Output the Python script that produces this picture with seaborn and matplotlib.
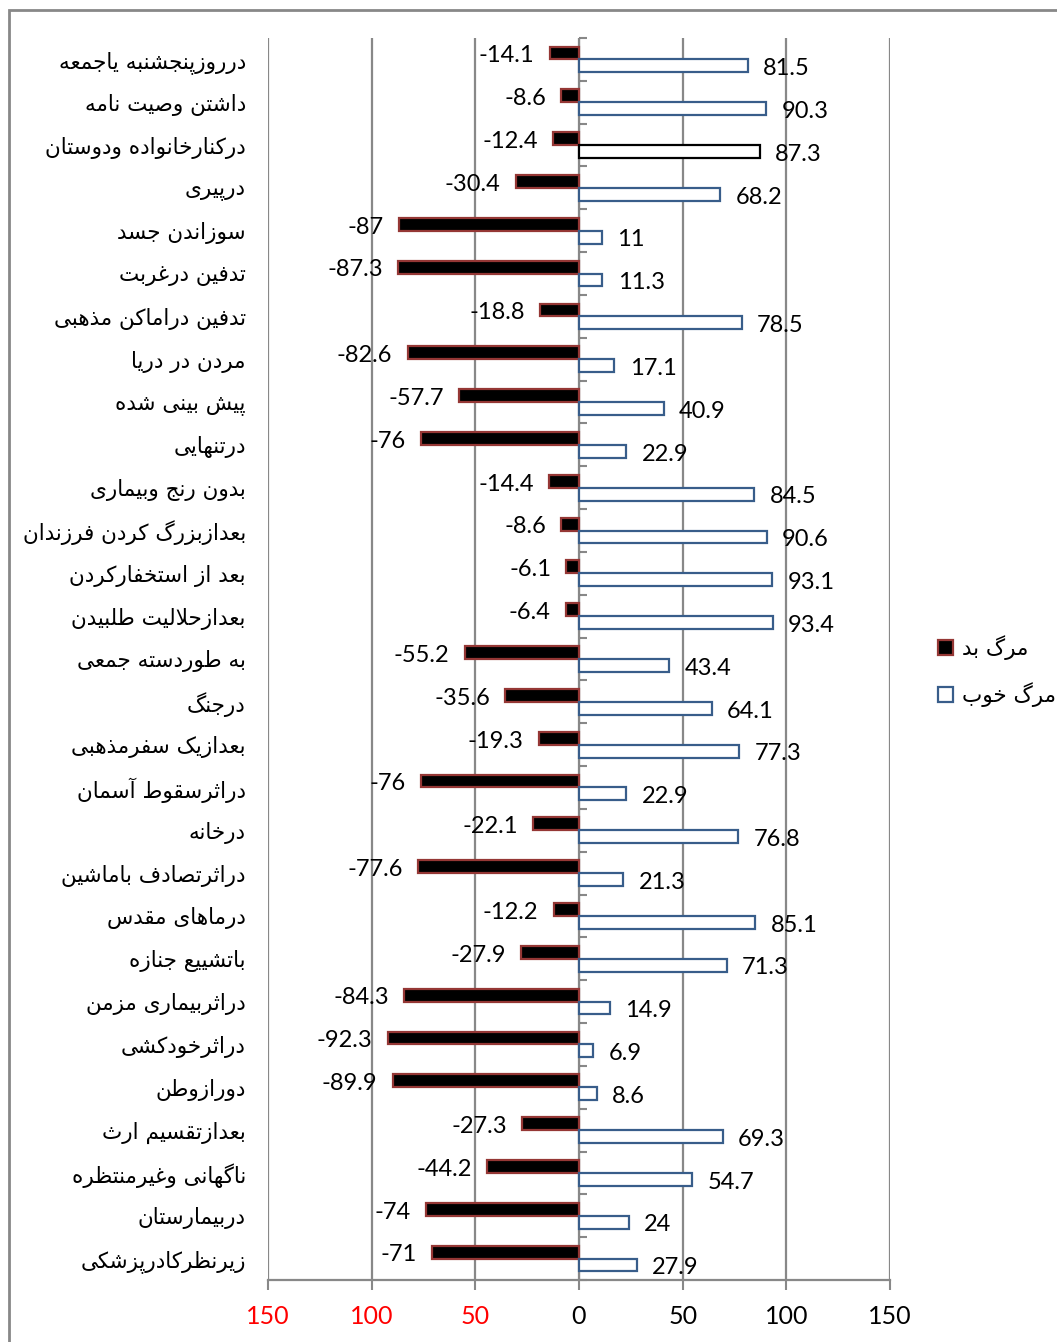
import pandas as pd
import seaborn as sns
import matplotlib.pyplot as plt
from matplotlib.patches import Patch, Rectangle

categories = [
    "درروزپنجشنبه یاجمعه",
    "داشتن وصیت نامه",
    "درکنارخانواده ودوستان",
    "درپیری",
    "سوزاندن جسد",
    "تدفین درغربت",
    "تدفین دراماکن مذهبی",
    "مردن در دریا",
    "پیش بینی شده",
    "درتنهایی",
    "بدون رنج وبیماری",
    "بعدازبزرگ کردن فرزندان",
    "بعد از استخفارکردن",
    "بعدازحلالیت طلبیدن",
    "به طوردسته جمعی",
    "درجنگ",
    "بعدازیک سفرمذهبی",
    "دراثرسقوط آسمان",
    "درخانه",
    "دراثرتصادف باماشین",
    "درماهای مقدس",
    "باتشییع جنازه",
    "دراثربیماری مزمن",
    "دراثرخودکشی",
    "دورازوطن",
    "بعدازتقسیم ارث",
    "ناگهانی وغیرمنتظره",
    "دربیمارستان",
    "زیرنظرکادرپزشکی",
]
bad_death = [-14.1, -8.6, -12.4, -30.4, -87, -87.3, -18.8, -82.6, -57.7, -76,
             -14.4, -8.6, -6.1, -6.4, -55.2, -35.6, -19.3, -76, -22.1, -77.6,
             -12.2, -27.9, -84.3, -92.3, -89.9, -27.3, -44.2, -74, -71]
good_death = [81.5, 90.3, 87.3, 68.2, 11, 11.3, 78.5, 17.1, 40.9, 22.9,
              84.5, 90.6, 93.1, 93.4, 43.4, 64.1, 77.3, 22.9, 76.8, 21.3,
              85.1, 71.3, 14.9, 6.9, 8.6, 69.3, 54.7, 24, 27.9]
series_names = ["مرگ بد", "مرگ خوب"]
x_ticks = [-150, -100, -50, 0, 50, 100, 150]

# minimal arabic/persian shaping (matplotlib has no complex text layout)
# letter: (isolated, final, initial, medial)
FORMS = {
    'ا': ('\uFE8D', '\uFE8E', None, None),
    'آ': ('\uFE81', '\uFE82', None, None),
    'ب': ('\uFE8F', '\uFE90', '\uFE91', '\uFE92'),
    'پ': ('\uFB56', '\uFB57', '\uFB58', '\uFB59'),
    'ت': ('\uFE95', '\uFE96', '\uFE97', '\uFE98'),
    'ث': ('\uFE99', '\uFE9A', '\uFE9B', '\uFE9C'),
    'ج': ('\uFE9D', '\uFE9E', '\uFE9F', '\uFEA0'),
    'چ': ('\uFB7A', '\uFB7B', '\uFB7C', '\uFB7D'),
    'ح': ('\uFEA1', '\uFEA2', '\uFEA3', '\uFEA4'),
    'خ': ('\uFEA5', '\uFEA6', '\uFEA7', '\uFEA8'),
    'د': ('\uFEA9', '\uFEAA', None, None),
    'ذ': ('\uFEAB', '\uFEAC', None, None),
    'ر': ('\uFEAD', '\uFEAE', None, None),
    'ز': ('\uFEAF', '\uFEB0', None, None),
    'ژ': ('\uFB8A', '\uFB8B', None, None),
    'س': ('\uFEB1', '\uFEB2', '\uFEB3', '\uFEB4'),
    'ش': ('\uFEB5', '\uFEB6', '\uFEB7', '\uFEB8'),
    'ص': ('\uFEB9', '\uFEBA', '\uFEBB', '\uFEBC'),
    'ض': ('\uFEBD', '\uFEBE', '\uFEBF', '\uFEC0'),
    'ط': ('\uFEC1', '\uFEC2', '\uFEC3', '\uFEC4'),
    'ظ': ('\uFEC5', '\uFEC6', '\uFEC7', '\uFEC8'),
    'ع': ('\uFEC9', '\uFECA', '\uFECB', '\uFECC'),
    'غ': ('\uFECD', '\uFECE', '\uFECF', '\uFED0'),
    'ف': ('\uFED1', '\uFED2', '\uFED3', '\uFED4'),
    'ق': ('\uFED5', '\uFED6', '\uFED7', '\uFED8'),
    'ک': ('\uFB8E', '\uFB8F', '\uFB90', '\uFB91'),
    'گ': ('\uFB92', '\uFB93', '\uFB94', '\uFB95'),
    'ل': ('\uFEDD', '\uFEDE', '\uFEDF', '\uFEE0'),
    'م': ('\uFEE1', '\uFEE2', '\uFEE3', '\uFEE4'),
    'ن': ('\uFEE5', '\uFEE6', '\uFEE7', '\uFEE8'),
    'و': ('\uFEED', '\uFEEE', None, None),
    'ه': ('\uFEE9', '\uFEEA', '\uFEEB', '\uFEEC'),
    'ی': ('\uFBFC', '\uFBFD', '\uFBFE', '\uFBFF'),
}
LAMALEF = {'ا': ('\uFEFB', '\uFEFC'), 'آ': ('\uFEF5', '\uFEF6')}


def shape(text):
    res = []
    i = 0
    n = len(text)
    while i < n:
        c = text[i]
        if c not in FORMS:
            res.append(c)
            i += 1
            continue
        prev = text[i - 1] if i > 0 else None
        joins_prev = prev in FORMS and FORMS[prev][2] is not None
        if c == 'ل' and i + 1 < n and text[i + 1] in LAMALEF:
            lig = LAMALEF[text[i + 1]]
            res.append(lig[1] if joins_prev else lig[0])
            i += 2
            continue
        nxt = text[i + 1] if i + 1 < n else None
        joins_next = FORMS[c][2] is not None and nxt in FORMS
        iso, fin, ini, med = FORMS[c]
        if joins_prev and joins_next:
            res.append(med)
        elif joins_prev:
            res.append(fin)
        elif joins_next:
            res.append(ini)
        else:
            res.append(iso)
        i += 1
    return ''.join(reversed(res))


sns.set_style("white")
plt.rcParams['font.family'] = ['Lato', 'DejaVu Sans']
plt.rcParams['text.color'] = 'black'
plt.rcParams['xtick.color'] = 'black'
plt.rcParams['ytick.color'] = 'black'

labels = [shape(c) for c in categories]
df = pd.DataFrame({
    'cat': labels * 2,
    'value': bad_death + good_death,
    'series': [series_names[0]] * len(labels) + [series_names[1]] * len(labels),
})

W, H = 1057, 1342
fig = plt.figure(figsize=(W / 100, H / 100), dpi=100)
ax = fig.add_axes([268 / W, 1 - 1280 / H, (890 - 268) / W, (1280 - 38) / H])

sns.barplot(data=df, y='cat', x='value', hue='series', hue_order=series_names,
            orient='h', width=0.6, ax=ax, legend=False, saturation=1)

bad_face, bad_edge = 'black', '#953735'
good_face, good_edge = 'white', '#385D8A'
for p in ax.containers[0]:
    p.set_facecolor(bad_face)
    p.set_edgecolor(bad_edge)
    p.set_linewidth(1.6)
for p in ax.containers[1]:
    p.set_facecolor(good_face)
    p.set_edgecolor(good_edge)
    p.set_linewidth(1.6)
ax.containers[1][2].set_edgecolor('black')

anns = ax.bar_label(ax.containers[0], labels=[f"{v:g}" for v in bad_death],
                    padding=11, fontsize=17, fontfamily='Lato', color='black')
anns += ax.bar_label(ax.containers[1], labels=[f"{v:g}" for v in good_death],
                     padding=11, fontsize=17, fontfamily='Lato', color='black')
for a in anns:
    a.xyann = (a.xyann[0], a.xyann[1] - 2)

ax.set_xlim(-150, 150)
ax.set_ylim(len(labels) - 0.5, -0.5)
ax.set_xticks(x_ticks)
ax.set_xticklabels([str(abs(t)) for t in x_ticks], fontsize=18)
for t, lab in zip(x_ticks, ax.get_xticklabels()):
    lab.set_color('red' if t < 0 else 'black')
ax.set_xlabel('')
ax.set_ylabel('')

ax.tick_params(axis='y', length=0, pad=16, labelsize=15.5, labelcolor='black')
for lab in ax.get_yticklabels():
    lab.set_fontfamily('DejaVu Sans')
ax.tick_params(axis='x', bottom=True, direction='out', length=7, width=1.5,
               color='#888888', pad=11)

ax.grid(axis='x', color='#888888', linewidth=1.6)
ax.grid(axis='y', visible=False)
ax.set_axisbelow(True)
for side in ['top', 'right', 'left']:
    ax.spines[side].set_visible(False)
ax.spines['bottom'].set_color('#888888')
ax.spines['bottom'].set_linewidth(1.6)

# vertical category axis crossing at zero
zero_ax = ax.secondary_yaxis(0.5)
zero_ax.set_yticks([k - 0.5 for k in range(len(labels) + 1)])
zero_ax.set_yticklabels([])
zero_ax.tick_params(axis='y', direction='out', length=6, width=1.5, color='#888888')
zero_ax.spines['left'].set_color('#888888')
zero_ax.spines['left'].set_linewidth(1.8)

handles = [Patch(facecolor=bad_face, edgecolor=bad_edge, linewidth=1.6),
           Patch(facecolor=good_face, edgecolor=good_edge, linewidth=1.6)]
fig.legend(handles, [shape(s) for s in series_names], loc='center left',
           bbox_to_anchor=(919 / W, 1 - 671 / H), frameon=False,
           handlelength=0.7, handleheight=0.7, handletextpad=0.4,
           labelspacing=1.0, prop={'family': 'DejaVu Sans', 'size': 15.5})

fig.patches.append(Rectangle((9 / W, -0.05), 1.2, 1.05 - 10 / H,
                             transform=fig.transFigure, fill=False,
                             edgecolor='#888888', linewidth=2))

fig.savefig('out.png', dpi=100)
